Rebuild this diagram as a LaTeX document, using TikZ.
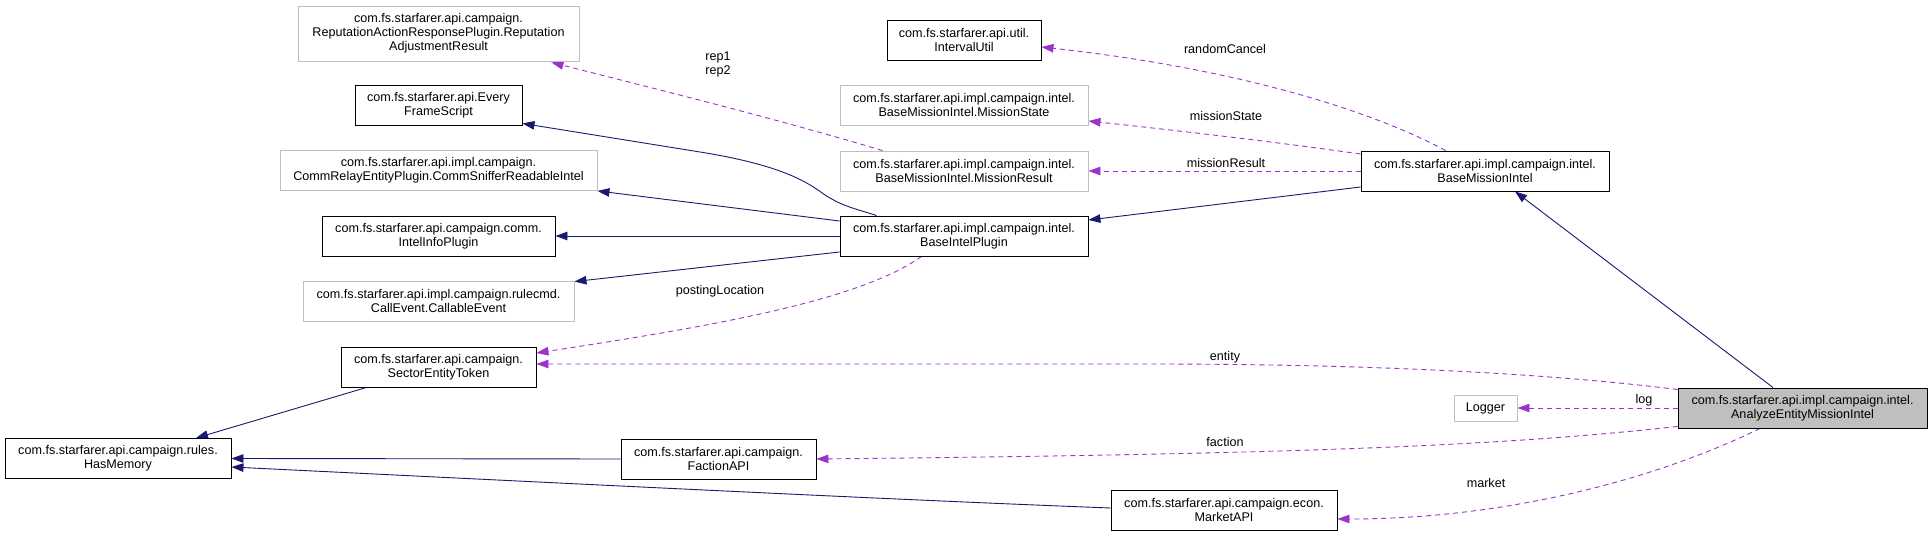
\documentclass[tikz,border=0pt]{standalone}
\usepackage{fontspec}
\setmainfont{Liberation Sans}
\usetikzlibrary{arrows.meta,calc,backgrounds}
\definecolor{inh}{HTML}{191970}
\definecolor{usec}{HTML}{9A32CD}
\definecolor{grayb}{HTML}{BFBFBF}
\begin{document}
\begin{tikzpicture}[x=1pt,y=-1pt,
 box/.style={draw=black,line width=0.9pt,fill=white,inner sep=0pt,align=center,font=\fontsize{12.6}{14}\selectfont,minimum height=40pt},
 gbox/.style={box,draw=grayb},
 inhe/.style={draw=inh,line width=0.9pt,-{Triangle[length=12pt,width=8.5pt]}},
 usee/.style={draw=usec,line width=0.9pt,dash pattern=on 5pt off 4pt,-{Triangle[length=12pt,width=8.5pt]}},
 lbl/.style={font=\fontsize{12.6}{14}\selectfont,inner sep=0pt,align=center}]
\useasboundingbox (0,0) rectangle (1932,537);
% nodes
\node[gbox,minimum width=281pt,minimum height=55pt] (rep) at (438.5,33.5) {com.fs.starfarer.api.campaign.\\ReputationActionResponsePlugin.Reputation\\AdjustmentResult};
\node[box,minimum width=167pt] (efs) at (438.5,105) {com.fs.starfarer.api.Every\\FrameScript};
\node[gbox,minimum width=317pt] (comm) at (438.5,170.5) {com.fs.starfarer.api.impl.campaign.\\CommRelayEntityPlugin.CommSnifferReadableIntel};
\node[box,minimum width=233pt] (iip) at (438.5,236) {com.fs.starfarer.api.campaign.comm.\\IntelInfoPlugin};
\node[gbox,minimum width=271pt] (call) at (438.5,301) {com.fs.starfarer.api.impl.campaign.rulecmd.\\CallEvent.CallableEvent};
\node[box,minimum width=195pt] (set) at (438.5,367) {com.fs.starfarer.api.campaign.\\SectorEntityToken};
\node[box,minimum width=226pt] (hm) at (118,458.5) {com.fs.starfarer.api.campaign.rules.\\HasMemory};
\node[box,minimum width=195pt] (fac) at (718.5,459) {com.fs.starfarer.api.campaign.\\FactionAPI};
\node[box,minimum width=226pt] (mkt) at (1224,510) {com.fs.starfarer.api.campaign.econ.\\MarketAPI};
\node[box,minimum width=154pt] (iu) at (964,40) {com.fs.starfarer.api.util.\\IntervalUtil};
\node[gbox,minimum width=248pt] (ms) at (964,105) {com.fs.starfarer.api.impl.campaign.intel.\\BaseMissionIntel.MissionState};
\node[gbox,minimum width=248pt] (mr) at (964,171) {com.fs.starfarer.api.impl.campaign.intel.\\BaseMissionIntel.MissionResult};
\node[box,minimum width=248pt] (bip) at (964,236) {com.fs.starfarer.api.impl.campaign.intel.\\BaseIntelPlugin};
\node[box,minimum width=248pt] (bmi) at (1485,171) {com.fs.starfarer.api.impl.campaign.intel.\\BaseMissionIntel};
\node[gbox,minimum width=63pt,minimum height=26pt] (log) at (1485.5,408) {Logger};
\node[box,fill=grayb,minimum width=249pt] (ae) at (1802.5,408) {com.fs.starfarer.api.impl.campaign.intel.\\AnalyzeEntityMissionIntel};
\coordinate (repsrc) at ($(mr.north west)+(43,0)$);
% labels
\node[lbl] (lrep) at (718,64.5) {rep1\\rep2};
\node[lbl] (lrc) at (1225,49) {randomCancel};
\node[lbl] (lms) at (1226,116) {missionState};
\node[lbl] (lmr) at (1226,163) {missionResult};
\node[lbl] (lpl) at (720,291) {postingLocation};
\node[lbl] (lent) at (1225,357) {entity};
\node[lbl] (lfac) at (1225,442) {faction};
\node[lbl] (llog) at (1644,400) {log};
\node[lbl] (lmkt) at (1486,483) {market};
\begin{pgfonlayer}{background}
\fill[white] (0,0) rectangle (1932,537);
% inheritance
\draw[inhe] ($(bip.north west)+(37,0)$) .. controls (860,210) and (845,207) .. (830,198) .. controls (815,190) and (800,168) .. (700,152) -- ($(efs.south east)+(0,-2)$);
\draw[inhe] ($(bip.west)+(0,-15)$) -- (comm.south east);
\draw[inhe] (bip.west) -- (iip.east);
\draw[inhe] ($(bip.west)+(0,16)$) -- ($(call.north east)+(0,1)$);
\draw[inhe] ($(bmi.west)+(0,16)$) -- ($(bip.east)+(0,-16)$);
\draw[inhe] ($(ae.north)+(-29.5,0)$) -- ($(bmi.south)+(30,0)$);
\draw[inhe] ($(set.south west)+(26,0)$) -- ($(hm.north)+(78,0)$);
\draw[inhe] (fac.west) -- (hm.east);
\draw[inhe] ($(mkt.west)+(0,-2)$) .. controls (900,500) and (600,485) .. ($(hm.east)+(0,8.5)$);
% usage
\draw[usee] ($(bmi.north west)+(85,0)$) .. controls (1380,115) and (1250,70) .. ($(iu.east)+(0,7)$);
\draw[usee] ($(bmi.west)+(0,-17)$) .. controls (1290,144) and (1200,133) .. ($(ms.east)+(0,16)$);
\draw[usee] (bmi.west) -- (mr.east);
\draw[usee] (repsrc) .. controls (780,120) and (680,95) .. ($(rep.south east)+(-28,1)$);
\draw[usee] ($(bip.south west)+(82,0)$) .. controls (860,300) and (720,325) .. ($(set.east)+(0,-14)$);
\draw[usee] ($(ae.north west)+(0,2)$) .. controls (1570,376) and (1400,364) .. (1150,364) -- ($(set.east)+(0,-3)$);
\draw[usee] (ae.west) -- (log.east);
\draw[usee] ($(ae.south west)+(0,-2)$) .. controls (1500,446) and (1300,454) .. (fac.east);
\draw[usee] ($(ae.south)+(-42.5,0)$) .. controls (1650,482) and (1500,519) .. ($(mkt.east)+(0,9)$);
\end{pgfonlayer}
\end{tikzpicture}
\end{document}
